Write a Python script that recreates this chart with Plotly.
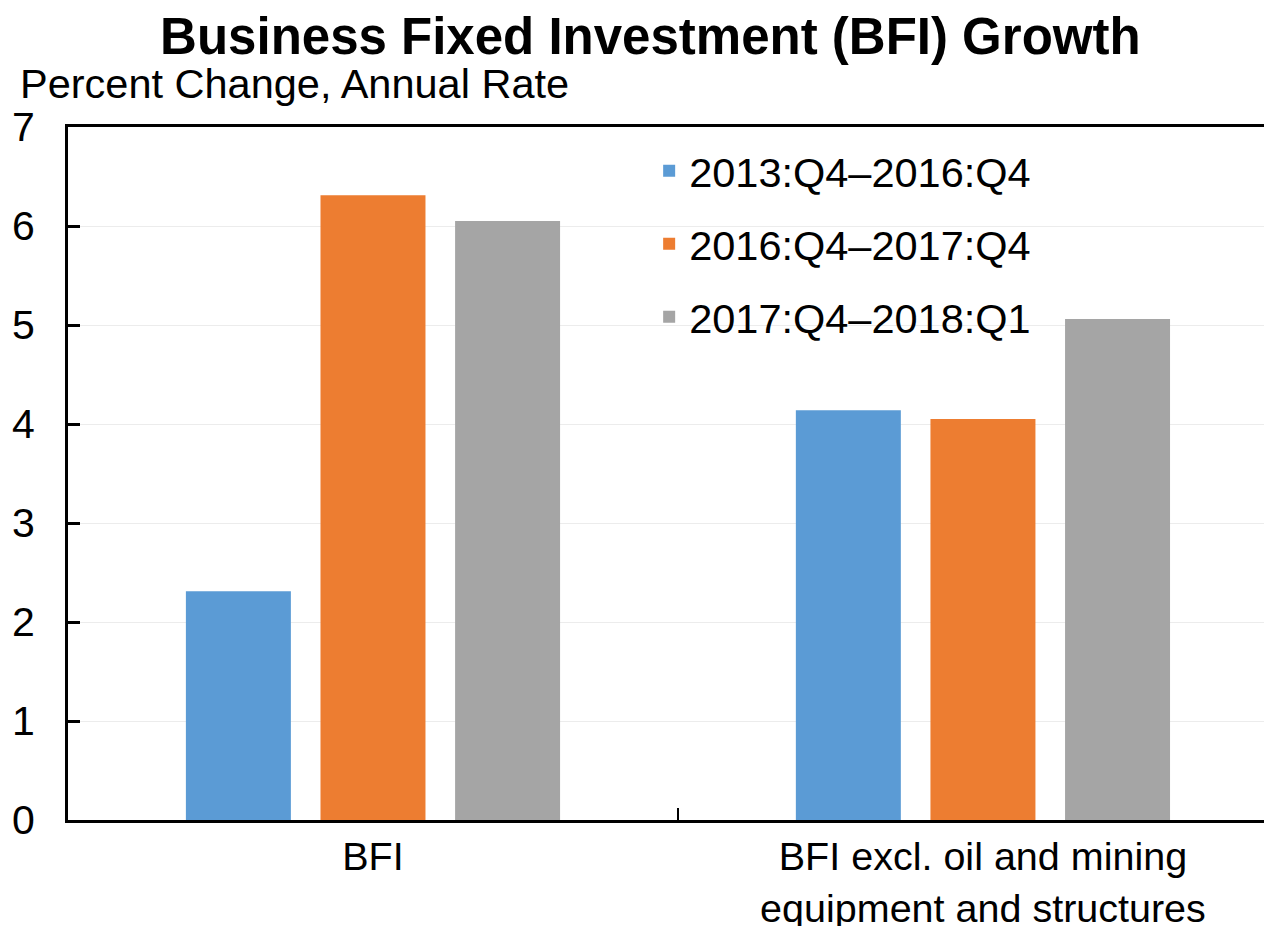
import plotly.graph_objects as go

categories = ["BFI", "BFI excl. oil and mining<br>equipment and structures"]
series_names = ["2013:Q4\u20132016:Q4", "2016:Q4\u20132017:Q4", "2017:Q4\u20132018:Q1"]
series_values = [
    [2.31, 4.14],
    [6.31, 4.05],
    [6.05, 5.06],
]
colors = ["#5B9BD5", "#ED7D31", "#A5A5A5"]
y_ticks = [0, 1, 2, 3, 4, 5, 6, 7]

font_family = "Liberation Sans, Arial, sans-serif"

# the page body adds an 8px offset, so the plot box is set 8px up and left
fig = go.Figure()

for i, (name, vals) in enumerate(zip(series_names, series_values)):
    fig.add_trace(go.Bar(
        x=categories,
        y=vals,
        name=name,
        legendgroup=f"g{i}",
        marker=dict(color=colors[i], line=dict(width=0))))

fig.update_layout(
    width=1272,
    height=926,
    paper_bgcolor="white",
    plot_bgcolor="white",
    font=dict(family=font_family, color="black", size=41),
    margin=dict(l=60, r=0, t=119, b=114),
    bargap=0.338,
    bargroupgap=0.22,
    title=dict(
        text="<b>Business Fixed Investment (BFI) Growth</b>",
        x=0.505, xanchor="center",
        y=0.97, yanchor="middle",
        font=dict(size=51, family=font_family)),
    legend=dict(
        x=0.4795, y=0.985, xanchor="left", yanchor="top",
        bgcolor="rgba(0,0,0,0)",
        traceorder="grouped",
        tracegroupgap=16,
        font=dict(size=41.5, family=font_family)),
    showlegend=True,
)

fig.update_xaxes(
    range=[-0.5, 1.487],
    automargin=False,
    showline=True, linecolor="black", linewidth=3,
    mirror=True,
    ticks="inside", tickson="boundaries", ticklen=12, tickwidth=2, tickcolor="black",
    showgrid=False,
    tickfont=dict(size=39.5),
    ticklabelstandoff=0,
)

fig.update_yaxes(
    range=[0, 7],
    automargin=False,
    tickvals=y_ticks,
    showline=True, linecolor="black", linewidth=3,
    ticks="inside", ticklen=12, tickwidth=3, tickcolor="black",
    showgrid=True, gridcolor="#ececec", gridwidth=1,
    zeroline=False,
    tickfont=dict(size=41),
    ticklabelstandoff=22,
)

fig.add_annotation(
    text="Percent Change, Annual Rate",
    xref="paper", yref="paper",
    x=-50 / 1212, y=1.0 + 44 / 693,
    xanchor="left", yanchor="middle",
    showarrow=False,
    font=dict(size=41.5, family=font_family),
)

fig.write_html("out.html")
